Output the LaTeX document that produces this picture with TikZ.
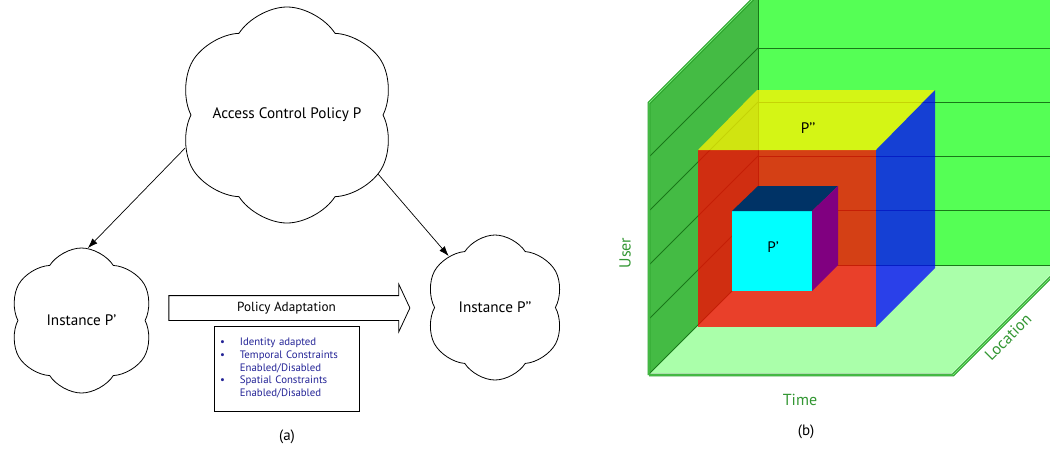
\documentclass[tikz,border=0pt]{standalone}
\usepackage{fontspec}
\setmainfont{PT Sans}
\usetikzlibrary{arrows.meta, positioning, calc, shapes.symbols, shapes.arrows}

\definecolor{wallback}{RGB}{85,255,85}
\definecolor{wallside}{RGB}{68,187,68}
\definecolor{floorgreen}{RGB}{170,255,170}
\definecolor{gridline}{RGB}{25,120,25}
\definecolor{rimgreen}{RGB}{40,160,40}
\definecolor{rimlight}{RGB}{120,230,120}
\definecolor{axisgreen}{RGB}{50,150,50}
\definecolor{listblue}{RGB}{35,35,150}
\definecolor{frontcyan}{RGB}{0,255,255}
\definecolor{topnavy}{RGB}{0,51,102}
\definecolor{sidepurple}{RGB}{128,0,128}

\begin{document}
\begin{tikzpicture}[x=1pt, y=-1pt,
  policy/.style={cloud, cloud puffs=6, cloud puff arc=115, aspect=1, draw=black,
                 line width=0.8pt, inner sep=0pt, font=\fontsize{15.2}{18}\selectfont},
  flow/.style={-{Latex[length=10pt,width=7pt]}, line width=0.7pt},
  adapt/.style={single arrow, draw=black, line width=0.8pt, single arrow head extend=11.5pt,
                single arrow tip angle=130, minimum height=241pt, text height=9pt,
                text depth=3pt, inner ysep=6pt, font=\fontsize{13.2}{15}\selectfont},
  notes/.style={draw=black, line width=0.8pt, minimum width=145pt, minimum height=85pt,
                text width=133pt, inner xsep=6pt, align=left, text=listblue,
                font=\fontsize{10.8}{12.8}\selectfont},
  axislabel/.style={text=axisgreen, font=\fontsize{16}{19}\selectfont},
  caption/.style={font=\fontsize{15}{18}\selectfont},
  cubelabel/.style={font=\fontsize{15.2}{18}\selectfont},
  rim/.style={draw=rimgreen, line width=1pt, double=rimlight, double distance=0.9pt},
  wallline/.style={draw=gridline, line width=0.8pt},
  face/.style={fill opacity=0.75},
]
\useasboundingbox (0,0) rectangle (1050,448);

% (a) Policy and its instances
\node[policy, inner xsep=-22pt, minimum width=218pt, minimum height=216pt] (acp) at (287,115) {Access Control Policy P};
\node[policy, minimum width=145pt, minimum height=145pt] (inst1) at (81.5,320.5) {Instance P’};
\node[policy, minimum width=140pt, minimum height=145pt] (inst2) at (495,307.5) {Instance P’’};

\draw[flow] (acp.198) -- (inst1.85);
\draw[flow] (acp.327) -- (inst2.132);

% Adaptation arrow and its notes
\node[adapt] (adapt) at (286.5,308) {Policy Adaptation};
\node[notes] (notes) at (286.5,368.5) {%
  \begin{tabular}{@{}l@{\hspace{15pt}}l@{}}
  \textbullet & Identity adapted\\
  \textbullet & Temporal Constraints\\
              & Enabled/Disabled\\
  \textbullet & Spatial Constraints\\
              & Enabled/Disabled
  \end{tabular}};
\node[caption] (capa) at (287,437) {(a)};

% (b) User / Time / Location space
\begin{scope}
\clip (600,0) rectangle (1050,448);
% back wall
\fill[wallback] (758,0) rectangle (1050,265);
\foreach \y in {48,102,156,210} \draw[wallline] (758,\y) -- (1050,\y);
% floor
\fill[floorgreen] (650,373) -- (952,373) -- (1050,275) -- (1050,265) -- (758,265) -- cycle;
\draw[wallline] (758,265) -- (1050,265);
% side wall
\fill[wallside] (650,373) -- (758,265) -- (758,-5) -- (650,103) -- cycle;
\foreach \y in {48,102,156,210} \draw[wallline] (650,\y+108) -- (758,\y);
\draw[wallline] (650,373) -- (758,265);
\draw[wallline] (758,-5) -- (758,265);

% outer cube P''
\fill[red, face] (698,150) rectangle (876,327);
\fill[yellow, face] (698,150) -- (876,150) -- (935,90) -- (757,90) -- cycle;
\fill[blue, face] (876,150) -- (935,90) -- (935,268) -- (876,327) -- cycle;

% inner cube P'
\fill[frontcyan] (732,211) rectangle (812,291);
\fill[topnavy] (732,211) -- (812,211) -- (838,186) -- (758,186) -- cycle;
\fill[sidepurple] (812,211) -- (838,186) -- (838,265) -- (812,291) -- cycle;

% rims
\draw[rim] (649,375) -- (649,103) -- (758,-6);
\draw[rim] (649,375) -- (953,375) -- (1055,273);
\end{scope}

\node[cubelabel] (pp) at (808,128) {P’’};
\node[cubelabel] (p) at (773,247) {P’};

\node[axislabel, rotate=90] (user) at (625,253) {User};
\node[axislabel] (time) at (800,400) {Time};
\node[axislabel, rotate=45] (loc) at (1008,337) {Location};
\node[caption] (capb) at (806,432) {(b)};

\end{tikzpicture}
\end{document}
